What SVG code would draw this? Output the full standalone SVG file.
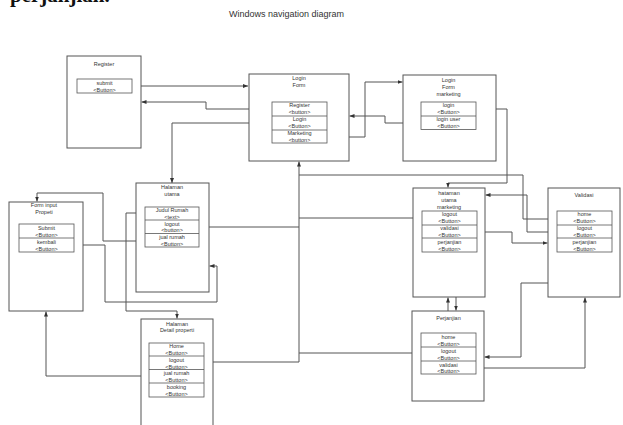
<svg xmlns="http://www.w3.org/2000/svg" width="623" height="425" viewBox="0 0 623 425">
<style>
.box{fill:#fff;stroke:#555;stroke-width:1}
.btn{fill:#fff;stroke:#555;stroke-width:0.8}
.t{font-family:"Liberation Sans",Arial,sans-serif;font-size:5.5px;fill:#333;text-anchor:middle}
.c{fill:none;stroke:#555;stroke-width:1}
</style>
<defs>
<marker id="ah" markerWidth="5" markerHeight="4" refX="5" refY="2" orient="auto" markerUnits="userSpaceOnUse">
<path d="M0,0 L5,2 L0,4 z" fill="#333"/>
</marker>
</defs>
<rect width="623" height="425" fill="#fff"/>
<text x="10" y="1.5" font-family="Liberation Serif,serif" font-weight="bold" font-size="21" fill="#111">perjanjian.</text>
<text x="286.5" y="17" font-family="Liberation Sans,Arial,sans-serif" font-size="9" fill="#333" text-anchor="middle">Windows navigation diagram</text>

<g id="connectors" class="c">
<path d="M132,86 H248" marker-end="url(#ah)"/>
<path d="M272,109 H206 V102 H141.5" marker-end="url(#ah)"/>
<path d="M272,123 H172 V183" marker-end="url(#ah)"/>
<path d="M327,137 H365 V82 H402.5" marker-end="url(#ah)"/>
<path d="M421,123 H385 V116 H349.5" marker-end="url(#ah)"/>
<path d="M476,109 H507 V183 H448 V187.5" marker-end="url(#ah)"/>
<path d="M557,219 H523 V175 H299"/>
<path d="M199,227 H299 V161.5" marker-end="url(#ah)"/>
<path d="M422,218 H299"/>
<path d="M204,362 H299 V227"/>
<path d="M421,353 H299"/>
<path d="M557,232 H527 V195 H485.5" marker-end="url(#ah)"/>
<path d="M477,232 H512 V243 H547.5" marker-end="url(#ah)"/>
<path d="M449,252 V278 H456 V310.5" marker-end="url(#ah)"/>
<path d="M448,333 V297.5" marker-end="url(#ah)"/>
<path d="M585,252 V283 H521 V357 H484.5" marker-end="url(#ah)"/>
<path d="M476,368 H585 V297.5" marker-end="url(#ah)"/>
<path d="M145,213 H126 V311 H177 V318.5" marker-end="url(#ah)"/>
<path d="M145,241 H103 V193 H37 V201.5" marker-end="url(#ah)"/>
<path d="M74,245 H105 V302 H217 V266 H209.5" marker-end="url(#ah)"/>
<path d="M149,376 H46 V311.5" marker-end="url(#ah)"/>
</g>

<g id="register">
<rect class="box" x="67" y="56" width="74" height="92"/>
<text class="t" x="104" y="66">Register</text>
<rect class="btn" x="77" y="79" width="55" height="14"/>
<text class="t" x="104.5" y="85">submit</text>
<text class="t" x="104.5" y="91.5">&lt;Button&gt;</text>
</g>

<g id="login-form">
<rect class="box" x="249" y="74" width="100" height="87"/>
<text class="t" x="299" y="80">Login</text>
<text class="t" x="299" y="87">Form</text>
<rect class="btn" x="272" y="102" width="55" height="41"/>
<line class="btn" x1="272" y1="116" x2="327" y2="116"/>
<line class="btn" x1="272" y1="130" x2="327" y2="130"/>
<text class="t" x="299.5" y="107">Register</text>
<text class="t" x="299.5" y="114">&lt;button&gt;</text>
<text class="t" x="299.5" y="121">Login</text>
<text class="t" x="299.5" y="128">&lt;Button&gt;</text>
<text class="t" x="299.5" y="135">Marketing</text>
<text class="t" x="299.5" y="142">&lt;button&gt;</text>
</g>

<g id="login-form-marketing">
<rect class="box" x="403" y="75" width="93" height="86"/>
<text class="t" x="448.5" y="82">Login</text>
<text class="t" x="448.5" y="89">Form</text>
<text class="t" x="448.5" y="96">marketing</text>
<rect class="btn" x="421" y="102" width="55" height="27.5"/>
<line class="btn" x1="421" y1="116" x2="476" y2="116"/>
<text class="t" x="448.5" y="107">login</text>
<text class="t" x="448.5" y="114">&lt;Button&gt;</text>
<text class="t" x="448.5" y="121">login user</text>
<text class="t" x="448.5" y="128">&lt;Button&gt;</text>
</g>

<g id="halaman-utama">
<rect class="box" x="136" y="183" width="73" height="109"/>
<text class="t" x="172" y="189">Halaman</text>
<text class="t" x="172" y="196">utama</text>
<rect class="btn" x="145" y="207" width="54" height="40"/>
<line class="btn" x1="145" y1="220" x2="199" y2="220"/>
<line class="btn" x1="145" y1="233.5" x2="199" y2="233.5"/>
<text class="t" x="172" y="212">Judul Rumah</text>
<text class="t" x="172" y="219">&lt;text&gt;</text>
<text class="t" x="172" y="225.5">logout</text>
<text class="t" x="172" y="232">&lt;button&gt;</text>
<text class="t" x="172" y="239">jual rumah</text>
<text class="t" x="172" y="246">&lt;Button&gt;</text>
</g>

<g id="form-input-propeti">
<rect class="box" x="9" y="202" width="74" height="109"/>
<text class="t" x="44" y="207">Form input</text>
<text class="t" x="44" y="214">Propeti</text>
<rect class="btn" x="19" y="224" width="55" height="28"/>
<line class="btn" x1="19" y1="238" x2="74" y2="238"/>
<text class="t" x="46.5" y="230">Submit</text>
<text class="t" x="46.5" y="237">&lt;Button&gt;</text>
<text class="t" x="46.5" y="244">kembali</text>
<text class="t" x="46.5" y="251">&lt;Button&gt;</text>
</g>

<g id="hataman-utama-marketing">
<rect class="box" x="413" y="188" width="72" height="109"/>
<text class="t" x="449" y="195">hataman</text>
<text class="t" x="449" y="202">utama</text>
<text class="t" x="449" y="209">marketing</text>
<rect class="btn" x="422" y="211" width="55" height="41"/>
<line class="btn" x1="422" y1="225" x2="477" y2="225"/>
<line class="btn" x1="422" y1="238" x2="477" y2="238"/>
<text class="t" x="449.5" y="216">logout</text>
<text class="t" x="449.5" y="223">&lt;Button&gt;</text>
<text class="t" x="449.5" y="230">validasi</text>
<text class="t" x="449.5" y="237">&lt;Button&gt;</text>
<text class="t" x="449.5" y="244">perjanjian</text>
<text class="t" x="449.5" y="251">&lt;Button&gt;</text>
</g>

<g id="validasi">
<rect class="box" x="548" y="188" width="72" height="109"/>
<text class="t" x="584" y="197">Validasi</text>
<rect class="btn" x="557" y="211" width="55" height="41"/>
<line class="btn" x1="557" y1="225" x2="612" y2="225"/>
<line class="btn" x1="557" y1="238" x2="612" y2="238"/>
<text class="t" x="584.5" y="216">home</text>
<text class="t" x="584.5" y="223">&lt;Button&gt;</text>
<text class="t" x="584.5" y="230">logout</text>
<text class="t" x="584.5" y="237">&lt;Button&gt;</text>
<text class="t" x="584.5" y="244">perjanjian</text>
<text class="t" x="584.5" y="251">&lt;Button&gt;</text>
</g>

<g id="perjanjian">
<rect class="box" x="412" y="311" width="72" height="90"/>
<text class="t" x="448.5" y="319.5">Perjanjian</text>
<rect class="btn" x="421" y="333" width="55" height="41"/>
<line class="btn" x1="421" y1="347" x2="476" y2="347"/>
<line class="btn" x1="421" y1="361" x2="476" y2="361"/>
<text class="t" x="448.5" y="339">home</text>
<text class="t" x="448.5" y="346">&lt;Button&gt;</text>
<text class="t" x="448.5" y="353">logout</text>
<text class="t" x="448.5" y="360">&lt;Button&gt;</text>
<text class="t" x="448.5" y="366.5">validasi</text>
<text class="t" x="448.5" y="373">&lt;Button&gt;</text>
</g>

<g id="halaman-detail-properti">
<rect class="box" x="141" y="319" width="72" height="120"/>
<text class="t" x="177" y="325.5">Halaman</text>
<text class="t" x="177" y="332">Detail properti</text>
<rect class="btn" x="149" y="343" width="55" height="54"/>
<line class="btn" x1="149" y1="356" x2="204" y2="356"/>
<line class="btn" x1="149" y1="369.5" x2="204" y2="369.5"/>
<line class="btn" x1="149" y1="383" x2="204" y2="383"/>
<text class="t" x="176.5" y="348">Home</text>
<text class="t" x="176.5" y="355">&lt;Button&gt;</text>
<text class="t" x="176.5" y="361.5">logout</text>
<text class="t" x="176.5" y="368.5">&lt;Button&gt;</text>
<text class="t" x="176.5" y="375">jual rumah</text>
<text class="t" x="176.5" y="382">&lt;Button&gt;</text>
<text class="t" x="176.5" y="389">booking</text>
<text class="t" x="176.5" y="395.5">&lt;Button&gt;</text>
</g>
</svg>
